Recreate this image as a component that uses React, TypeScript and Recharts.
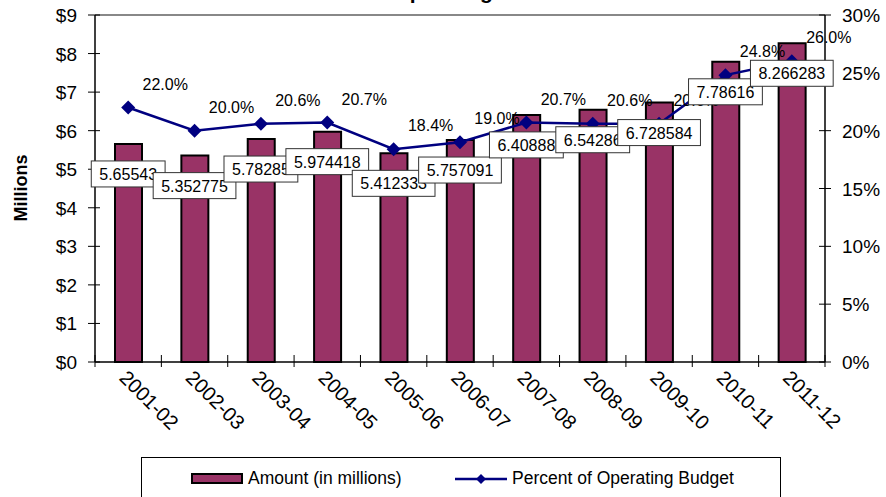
import React from 'react';
import { ComposedChart, Bar, Line, XAxis, YAxis, Legend, LabelList, ReferenceLine } from 'recharts';

// values
const years = ['2001-02', '2002-03', '2003-04', '2004-05', '2005-06', '2006-07', '2007-08', '2008-09', '2009-10', '2010-11', '2011-12'];
const amounts = [5.65543, 5.352775, 5.78285, 5.974418, 5.412333, 5.757091, 6.40888, 6.54286, 6.728584, 7.78616, 8.266283];
const percents = [22.0, 20.0, 20.6, 20.7, 18.4, 19.0, 20.7, 20.6, 20.6, 24.8, 26.0];
const amountTicks = [0, 1, 2, 3, 4, 5, 6, 7, 8, 9];
const percentTicks = [0, 5, 10, 15, 20, 25, 30];

const data = years.map((year, i) => ({ year, amount: amounts[i], percent: percents[i] }));

const W = 886;
const H = 497;
const LEFT_W = 95;
const RIGHT_W = 61;
const LEGEND_H = 40;
const XAXIS_H = 95;
const BAND = (W - LEFT_W - RIGHT_W) / years.length;
const FONT = '"Liberation Sans", Arial, sans-serif';
const PLUM = '#993366';
const NAVY = '#000080';

const LeftTick = ({ x, y, payload }: any) => (
  <g>
    <line x1={x - 7} x2={x + 5} y1={y} y2={y} stroke="#000" />
    <text x={x - 18} y={y + 7} textAnchor="end" fontSize={19} fontFamily={FONT} fill="#000">
      ${payload.value}
    </text>
  </g>
);

const RightTick = ({ x, y, payload }: any) => (
  <g>
    <line x1={x - 6} x2={x + 6} y1={y} y2={y} stroke="#000" />
    <text x={x + 17} y={y + 7} textAnchor="start" fontSize={19} fontFamily={FONT} fill="#000">
      {payload.value}%
    </text>
  </g>
);

const XTick = ({ x, y, payload, index }: any) => (
  <g>
    <line x1={x - BAND / 2} x2={x - BAND / 2} y1={y - 7} y2={y + 5} stroke="#000" />
    {index === years.length - 1 && (
      <line x1={x + BAND / 2} x2={x + BAND / 2} y1={y - 7} y2={y + 5} stroke="#000" />
    )}
    <text
      transform={`translate(${x - 10},${y + 17}) rotate(45)`}
      textAnchor="start"
      fontSize={20}
      fontFamily={FONT}
      fill="#000"
    >
      {payload.value}
    </text>
  </g>
);

const Diamond = ({ cx, cy }: any) => (
  <polygon points={`${cx},${cy - 7} ${cx + 7},${cy} ${cx},${cy + 7} ${cx - 7},${cy}`} fill={NAVY} />
);

const PercentLabel = ({ x, y, value }: any) => (
  <text x={x + 37} y={y - 18} textAnchor="middle" fontSize={16} fontFamily={FONT} fill="#000">
    {Number(value).toFixed(1)}%
  </text>
);

// rough Arial width for the boxed labels
const textWidth = (s: string, size: number) =>
  s.split('').reduce((w, c) => w + (c === '.' ? 0.278 : 0.556), 0) * size;

const AmountLabel = ({ x, y, value }: any) => {
  const s = String(value);
  const w = textWidth(s, 16) + 16;
  const cy = y + 30;
  return (
    <g>
      <rect x={x - w / 2} y={cy - 13} width={w} height={26} fill="#fff" stroke="#333" strokeWidth={1} />
      <text x={x} y={cy + 6} textAnchor="middle" fontSize={16} fontFamily={FONT} fill="#000">
        {s}
      </text>
    </g>
  );
};

const LegendBox = () => (
  <div
    style={{
      position: 'relative',
      width: 640,
      height: 50,
      border: '1px solid #000',
      boxSizing: 'border-box',
      background: '#fff',
      fontFamily: FONT,
      fontSize: 17.5,
      color: '#000',
    }}
  >
    <div
      style={{
        position: 'absolute',
        left: 49,
        top: 15,
        width: 52,
        height: 11,
        background: PLUM,
        border: '2px solid #000',
        boxSizing: 'border-box',
      }}
    />
    <span style={{ position: 'absolute', left: 106, top: 10, lineHeight: '20px' }}>Amount (in millions)</span>
    <svg style={{ position: 'absolute', left: 313, top: 13 }} width={52} height={16}>
      <line x1={0} x2={52} y1={8} y2={8} stroke={NAVY} strokeWidth={2.5} />
      <polygon points="26,3 31,8 26,13 21,8" fill={NAVY} />
    </svg>
    <span style={{ position: 'absolute', left: 370, top: 10, lineHeight: '20px' }}>Percent of Operating Budget</span>
  </div>
);

const App = () => {
  return (
    <div style={{ position: 'absolute', left: 0, top: 0, width: W, height: H, overflow: 'hidden', background: '#fff' }}>
      <ComposedChart width={W} height={H} data={data} margin={{ top: 15, right: 0, bottom: 0, left: 0 }}>
        <text x={285} y={-1} fontSize={21} fontWeight="bold" fontFamily={FONT} fill="#000">
          Percent of Operating
        </text>
        <text
          x={21}
          y={188}
          transform="rotate(-90,21,188)"
          textAnchor="middle"
          dominantBaseline="central"
          fontSize={18}
          fontWeight="bold"
          fontFamily={FONT}
          fill="#000"
        >
          Millions
        </text>
        <XAxis
          dataKey="year"
          height={XAXIS_H}
          interval={0}
          tickLine={false}
          tickSize={0}
          tickMargin={0}
          tick={<XTick />}
          axisLine={{ stroke: '#000', strokeWidth: 1.5 }}
        />
        <YAxis
          yAxisId="left"
          width={LEFT_W}
          domain={[0, 9]}
          ticks={amountTicks}
          tickLine={false}
          tickSize={0}
          tickMargin={0}
          tick={<LeftTick />}
          axisLine={{ stroke: '#000', strokeWidth: 1.5 }}
        />
        <YAxis
          yAxisId="right"
          orientation="right"
          width={RIGHT_W}
          domain={[0, 30]}
          ticks={percentTicks}
          tickLine={false}
          tickSize={0}
          tickMargin={0}
          tick={<RightTick />}
          axisLine={{ stroke: '#000', strokeWidth: 1.5 }}
        />
        <ReferenceLine yAxisId="left" y={9} stroke="#888" strokeWidth={2} />
        <Legend content={<LegendBox />} wrapperStyle={{ left: 141, top: 457, width: 640, height: LEGEND_H }} />
        <Bar
          yAxisId="left"
          dataKey="amount"
          name="Amount (in millions)"
          fill={PLUM}
          stroke="#000"
          strokeWidth={2}
          barSize={27}
          isAnimationActive={false}
        />
        <Line
          yAxisId="right"
          dataKey="percent"
          name="Percent of Operating Budget"
          stroke={NAVY}
          strokeWidth={2.5}
          dot={<Diamond />}
          activeDot={false}
          isAnimationActive={false}
        >
          <LabelList dataKey="percent" content={<PercentLabel />} />
        </Line>
        <Line
          yAxisId="left"
          dataKey="amount"
          stroke="none"
          dot={false}
          activeDot={false}
          legendType="none"
          isAnimationActive={false}
        >
          <LabelList dataKey="amount" content={<AmountLabel />} />
        </Line>
      </ComposedChart>
    </div>
  );
};

export default App;
